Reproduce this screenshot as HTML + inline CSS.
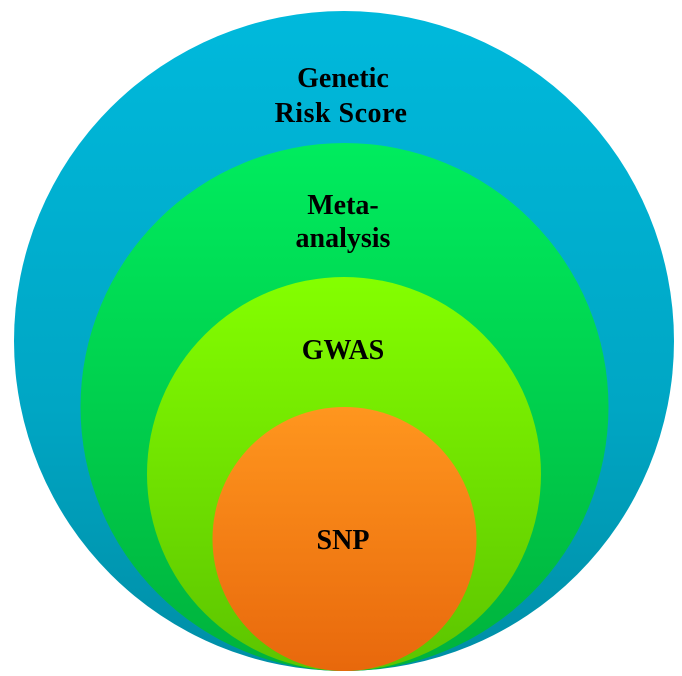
<!DOCTYPE html>
<html><head><meta charset="utf-8"><style>
html,body{margin:0;padding:0;background:#fff;}
svg{display:block}
text{font-family:"Liberation Serif",serif;font-weight:bold;font-size:28px;fill:#000;text-anchor:middle;}
</style></head><body>
<svg width="682" height="676" viewBox="0 0 682 676" xmlns="http://www.w3.org/2000/svg">
<defs>
<linearGradient id="g1" x1="0" y1="0" x2="0" y2="1"><stop offset="0" stop-color="#00b9dc"/><stop offset="0.6" stop-color="#00a6c4"/><stop offset="1" stop-color="#008ea6"/></linearGradient>
<linearGradient id="g2" x1="0" y1="0" x2="0" y2="1"><stop offset="0" stop-color="#00ec5e"/><stop offset="1" stop-color="#00b23c"/></linearGradient>
<linearGradient id="g3" x1="0" y1="0" x2="0" y2="1"><stop offset="0" stop-color="#84ff00"/><stop offset="1" stop-color="#5cc400"/></linearGradient>
<linearGradient id="g4" x1="0" y1="0" x2="0" y2="1"><stop offset="0" stop-color="#ff961e"/><stop offset="1" stop-color="#e8680c"/></linearGradient>
</defs>
<circle cx="344" cy="341" r="330" fill="url(#g1)"/>
<circle cx="344.5" cy="407" r="264" fill="url(#g2)"/>
<circle cx="344" cy="474" r="197" fill="url(#g3)"/>
<circle cx="344.5" cy="539" r="132" fill="url(#g4)"/>
<text x="343" y="87">Genetic</text>
<text x="341" y="122" letter-spacing="0.5">Risk Score</text>
<text x="343" y="214">Meta-</text>
<text x="343" y="247">analysis</text>
<text x="343" y="359">GWAS</text>
<text x="343" y="549">SNP</text>
</svg>
</body></html>
